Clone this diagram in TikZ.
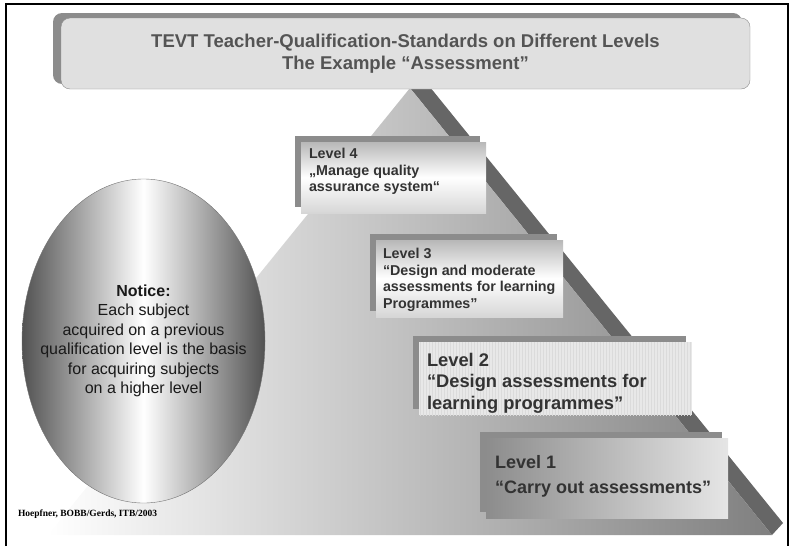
\documentclass[tikz,border=0pt]{standalone}
\usepackage{fontspec}
\setmainfont{Liberation Sans}
\newfontfamily\creditfont{Liberation Serif}
\usepackage{tikz}
\usetikzlibrary{positioning, shapes.geometric, shadows, patterns}

\begin{document}
\begin{tikzpicture}[x=1pt, y=-1pt, every node/.style={inner sep=0pt, outer sep=0pt}]
    \tikzstyle{frameline} = [line width=1.4pt, draw=black]
    \tikzstyle{titlebox} = [rectangle, rounded corners=9pt, draw=black!45, fill=black!12, minimum width=689pt, minimum height=71pt, align=center, text=black!67, font=\bfseries\fontsize{18.5}{22}\selectfont, drop shadow={shadow xshift=-8pt, shadow yshift=5pt, fill=black!45, opacity=1}]
    \tikzstyle{levelbox} = [rectangle, anchor=north west, drop shadow={shadow xshift=-6pt, shadow yshift=6pt, fill=black!45, opacity=1}]
    \tikzstyle{steelbox} = [levelbox, top color=black!28, bottom color=black!16, middle color=white]
    \tikzstyle{stripebox} = [levelbox, fill=black!9, postaction={pattern=vertical lines, pattern color=black!14}]
    \tikzstyle{darkbox} = [levelbox, left color=black!45, right color=black!10]
    \tikzstyle{smalltext} = [anchor=north west, align=left, text=black!80, font=\bfseries\fontsize{14.3}{16.8}\selectfont]
    \tikzstyle{bigtext} = [anchor=north west, align=left, text=black!80, font=\bfseries\fontsize{18.3}{21.5}\selectfont]
    \tikzstyle{noticeoval} = [ellipse, draw=black!55, minimum width=243pt, minimum height=324pt, left color=black!68, right color=black!68, middle color=white]
    \tikzstyle{noticetext} = [align=center, text=black!90, font=\fontsize{16}{19.5}\selectfont]

    \useasboundingbox (0,0) rectangle (791,546);
    \draw[frameline] (6,546) -- (6,4) -- (788,4) -- (788,546);

    % pyramid
    \coordinate (apex) at (410,88);
    \coordinate (baseR) at (772,535);
    \coordinate (baseL) at (48,535);
    \fill[black!60] (apex) -- ++(11,-12) -- ([shift={(11,-12)}]baseR) -- (baseR) -- cycle;
    \shade[left color=white, right color=black!50] (apex) -- (baseR) -- (baseL) -- cycle;

    \node[titlebox] (title) at (405.5,53.5) {TEVT Teacher-Qualification-Standards on Different Levels\\The Example “Assessment”};

    \node[noticeoval] (notice) at (143.5,341) {};
    \node[noticetext] (noticetxt) at (notice.center) {\textbf{Notice:}\\Each subject\\acquired on a previous\\qualification level is the basis\\for acquiring subjects\\on a higher level};

    % level boxes
    \node[steelbox, minimum width=185pt, minimum height=71pt] (lvl4) at (301,142) {};
    \node[steelbox, minimum width=187pt, minimum height=77pt] (lvl3) at (376,240) {};
    \node[stripebox, minimum width=273pt, minimum height=73pt] (lvl2) at (419,342) {};
    \node[darkbox, minimum width=242pt, minimum height=80pt] (lvl1) at (486,438) {};

    \node[smalltext] (txt4) at ([shift={(8,6)}]lvl4.north west) {Level 4\\„Manage quality\\assurance system“};
    \node[smalltext, font=\bfseries\fontsize{14.3}{16.7}\selectfont] (txt3) at ([shift={(7,8)}]lvl3.north west) {Level 3\\“Design and moderate\\assessments for learning\\Programmes”};
    \node[bigtext] (txt2) at ([shift={(8,11)}]lvl2.north west) {Level 2\\“Design assessments for\\learning programmes”};
    \node[bigtext, font=\bfseries\fontsize{18}{25}\selectfont] (txt1) at ([shift={(9,17.5)}]lvl1.north west) {Level 1\\“Carry out assessments”};

    \node[anchor=west, font=\creditfont\bfseries\fontsize{9.5}{11}\selectfont] (credit) at (18,514) {Hoepfner, BOBB/Gerds, ITB/2003};
\end{tikzpicture}
\end{document}
